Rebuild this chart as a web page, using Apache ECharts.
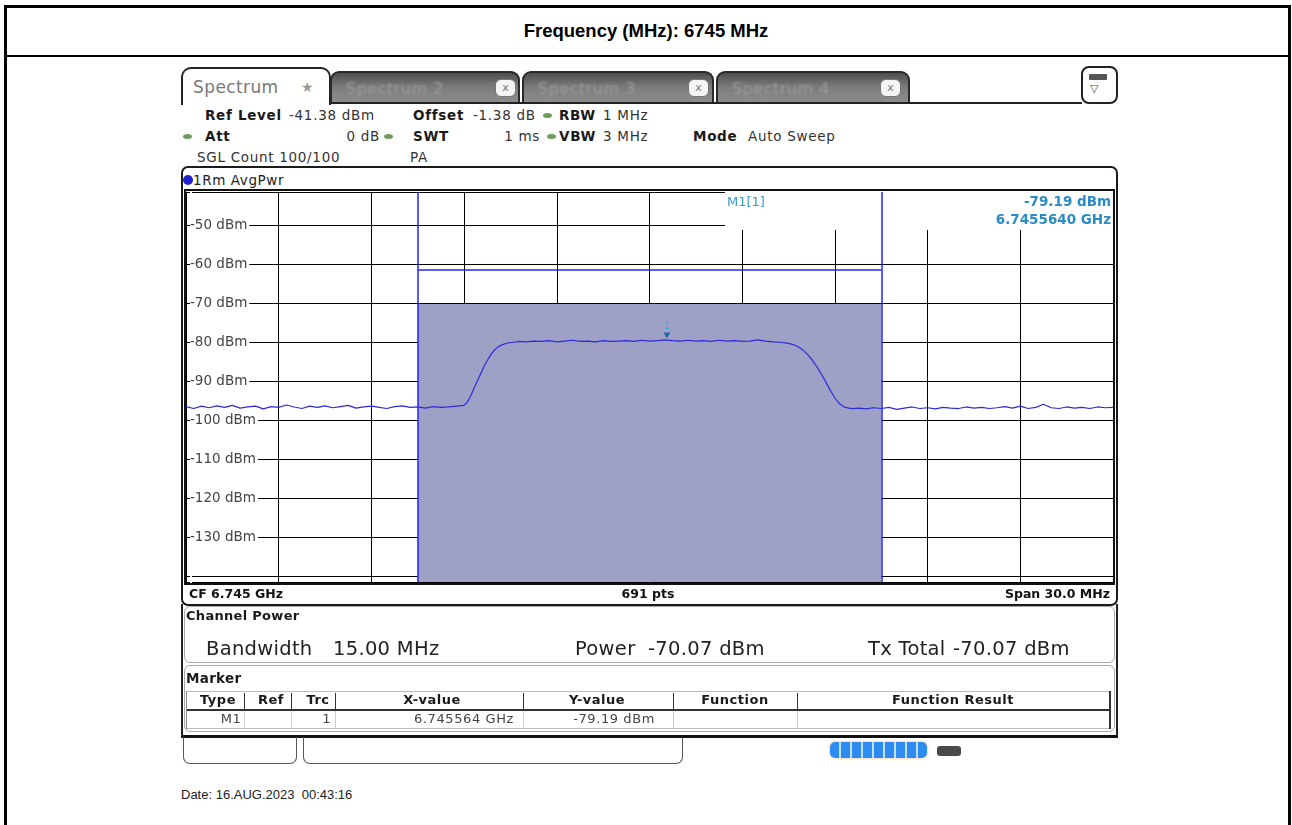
<!DOCTYPE html>
<html>
<head>
<meta charset="utf-8">
<script src="https://cdn.jsdelivr.net/npm/echarts@6/dist/echarts.min.js"></script>
<style>
  html, body { margin:0; padding:0; background:#fff; }
  #page { position:relative; width:1292px; height:825px; overflow:hidden; background:#fff; font-family:'DejaVu Sans', sans-serif; }
  .a { position:absolute; }
  .t { position:absolute; white-space:nowrap; height:20px; line-height:20px; }
  .info { font-size:13.5px; letter-spacing:0.7px; color:#333; }
  .b { font-weight:bold; color:#1a1a1a; }
  .dot { position:absolute; width:9px; height:5px; border-radius:50%; background:#6f9b5c; }
  .gtab { position:absolute; top:71px; height:31px; border:2px solid #2a2a2a; border-bottom:none; border-radius:9px 9px 0 0;
          background:linear-gradient(#4e4e4e, #7c7c7c 45%, #8e8e8e); box-sizing:content-box; }
  .gtab span { position:absolute; left:14px; top:6px; font-size:16px; color:#9c9c9c; letter-spacing:0.5px; filter:blur(1px); }
  .xbtn { position:absolute; top:6px; width:19px; height:16px; border-radius:6px; background:#f4f4f4; border:1px solid #777;
          font-size:11px; line-height:16px; text-align:center; color:#777; }
  .th { font-size:13px; font-weight:bold; color:#1a1a1a; letter-spacing:0.5px; }
  .td { font-size:13px; color:#444; letter-spacing:0.6px; }
  .cp { font-size:19.5px; color:#222; letter-spacing:0.3px; height:26px; line-height:26px; }
</style>
</head>
<body>
<div id="page">
  <!-- outer report frame -->
  <div class="a" style="left:4px;top:5px;width:1287px;height:3px;background:#000"></div>
  <div class="a" style="left:4px;top:5px;width:3px;height:830px;background:#000"></div>
  <div class="a" style="left:1288px;top:5px;width:3px;height:830px;background:#000"></div>
  <div class="a" style="left:4px;top:55px;width:1287px;height:2px;background:#000"></div>
  <div class="t" style="left:4px;width:1284px;top:21px;text-align:center;font-family:'Liberation Sans',Arial,sans-serif;font-weight:bold;font-size:18.5px;color:#000;">Frequency (MHz): 6745 MHz</div>

  <!-- tabs -->
  <div class="a" style="left:181px;top:67px;width:146px;height:36px;border:2px solid #222;border-bottom:none;border-radius:10px 10px 0 0;background:#fff;"></div>
  <div class="t" style="left:193px;top:77px;font-size:17px;color:#777;letter-spacing:0.4px;">Spectrum</div>
  <div class="t" style="left:301px;top:77px;font-size:14px;color:#9a9a9a;">★</div>
  <div class="gtab" style="left:330px;width:186px;"><span>Spectrum 2</span><div class="xbtn" style="left:163px;">x</div></div>
  <div class="gtab" style="left:522px;width:188px;"><span>Spectrum 3</span><div class="xbtn" style="left:164px;">x</div></div>
  <div class="gtab" style="left:716px;width:190px;"><span>Spectrum 4</span><div class="xbtn" style="left:162px;">x</div></div>
  <div class="a" style="left:330px;top:102px;width:752px;height:2px;background:#222"></div>
  <div class="a" style="left:1081px;top:66px;width:33px;height:34px;border:2px solid #222;border-radius:8px;background:#fff;"></div>
  <div class="a" style="left:1089px;top:74px;width:18px;height:6px;background:#555;border-radius:1px;"></div>
  <div class="t" style="left:1090px;top:79px;font-size:11px;color:#555;">▽</div>

  <!-- settings rows -->
  <div class="t info b" style="left:205px;top:105px;">Ref Level</div>
  <div class="t info" style="left:289px;top:105px;">-41.38 dBm</div>
  <div class="t info b" style="left:413px;top:105px;">Offset</div>
  <div class="t info" style="left:473px;top:105px;">-1.38 dB</div>
  <div class="dot" style="left:543px;top:113px;"></div>
  <div class="t info b" style="left:559px;top:105px;">RBW</div>
  <div class="t info" style="left:603px;top:105px;">1 MHz</div>

  <div class="dot" style="left:183px;top:134px;"></div>
  <div class="t info b" style="left:205px;top:126px;">Att</div>
  <div class="t info" style="left:280px;width:100px;text-align:right;top:126px;">0 dB</div>
  <div class="dot" style="left:384px;top:134px;"></div>
  <div class="t info b" style="left:413px;top:126px;">SWT</div>
  <div class="t info" style="left:440px;width:100px;text-align:right;top:126px;">1 ms</div>
  <div class="dot" style="left:547px;top:134px;"></div>
  <div class="t info b" style="left:559px;top:126px;">VBW</div>
  <div class="t info" style="left:603px;top:126px;">3 MHz</div>
  <div class="t info b" style="left:693px;top:126px;">Mode</div>
  <div class="t info" style="left:748px;top:126px;">Auto Sweep</div>

  <div class="t info" style="left:197px;top:147px;">SGL Count 100/100</div>
  <div class="t info" style="left:410px;top:147px;">PA</div>

  <!-- diagram frame -->
  <div class="a" style="left:181px;top:166px;width:937px;height:440px;border:2px solid #1a1a1a;border-radius:7px;box-sizing:border-box;background:#fff;"></div>
  <div class="a" style="left:183px;top:175px;width:10px;height:10px;border-radius:50%;background:#2222cc;"></div>
  <div class="t info" style="left:193px;top:170px;font-size:13.5px;letter-spacing:0.6px;color:#222;">1Rm AvgPwr</div>
  <div id="chart" class="a" style="left:186px;top:191px;width:927px;height:392px;"></div>
  <div class="a" style="left:184px;top:189px;width:931px;height:396px;border:2px solid #111;box-sizing:border-box;pointer-events:none;"></div>
  <div class="t" style="left:189px;top:584px;font-size:12.5px;font-weight:bold;color:#111;">CF 6.745 GHz</div>
  <div class="t" style="left:548px;width:200px;text-align:center;top:584px;font-size:12.5px;font-weight:bold;color:#111;">691 pts</div>
  <div class="t" style="left:910px;width:200px;text-align:right;top:584px;font-size:12.5px;font-weight:bold;color:#111;">Span 30.0 MHz</div>

  <!-- result panels -->
  <div class="a" style="left:181px;top:604px;width:937px;height:134px;border-left:2px solid #222;border-right:2px solid #222;border-bottom:3px solid #111;box-sizing:border-box;"></div>
  <div class="a" style="left:184px;top:606px;width:931px;height:57px;border:1px solid #a8a8a8;border-radius:6px;box-sizing:border-box;"></div>
  <div class="t b" style="left:186px;top:606px;font-size:13px;letter-spacing:0.3px;">Channel Power</div>
  <div class="t cp" style="left:206px;top:636px;">Bandwidth</div>
  <div class="t cp" style="left:333px;top:636px;">15.00 MHz</div>
  <div class="t cp" style="left:575px;top:636px;">Power</div>
  <div class="t cp" style="left:648px;top:636px;">-70.07 dBm</div>
  <div class="t cp" style="left:868px;top:636px;">Tx Total</div>
  <div class="t cp" style="left:953px;top:636px;">-70.07 dBm</div>

  <div class="a" style="left:184px;top:665px;width:931px;height:67px;border:1px solid #a8a8a8;border-radius:6px;box-sizing:border-box;"></div>
  <div class="t b" style="left:186px;top:668px;font-size:13.5px;letter-spacing:0.3px;">Marker</div>
  <!-- marker table -->
  <div class="a" style="left:187px;top:691px;width:923px;height:1px;background:#bbb"></div>
  <div class="a" style="left:187px;top:709px;width:923px;height:2px;background:#333"></div>
  <div class="a" style="left:187px;top:728px;width:923px;height:1px;background:#bbb"></div>
  <div class="a" style="left:186px;top:691px;width:1px;height:38px;background:#888"></div>
  <div class="a" style="left:1109px;top:691px;width:2px;height:38px;background:#333"></div>
  <div class="a" style="left:244px;top:693px;width:1px;height:17px;background:#333"></div>
  <div class="a" style="left:291px;top:693px;width:1px;height:17px;background:#333"></div>
  <div class="a" style="left:335px;top:693px;width:1px;height:17px;background:#333"></div>
  <div class="a" style="left:523px;top:693px;width:1px;height:17px;background:#333"></div>
  <div class="a" style="left:673px;top:693px;width:1px;height:17px;background:#333"></div>
  <div class="a" style="left:797px;top:693px;width:1px;height:17px;background:#333"></div>
  <div class="a" style="left:244px;top:711px;width:1px;height:17px;background:#ccc"></div>
  <div class="a" style="left:291px;top:711px;width:1px;height:17px;background:#ccc"></div>
  <div class="a" style="left:335px;top:711px;width:1px;height:17px;background:#ccc"></div>
  <div class="a" style="left:523px;top:711px;width:1px;height:17px;background:#ccc"></div>
  <div class="a" style="left:673px;top:711px;width:1px;height:17px;background:#ccc"></div>
  <div class="a" style="left:797px;top:711px;width:1px;height:17px;background:#ccc"></div>
  <div class="t th" style="left:168px;width:100px;text-align:center;top:690px;">Type</div>
  <div class="t th" style="left:221px;width:100px;text-align:center;top:690px;">Ref</div>
  <div class="t th" style="left:268px;width:100px;text-align:center;top:690px;">Trc</div>
  <div class="t th" style="left:382px;width:100px;text-align:center;top:690px;">X-value</div>
  <div class="t th" style="left:547px;width:100px;text-align:center;top:690px;">Y-value</div>
  <div class="t th" style="left:685px;width:100px;text-align:center;top:690px;">Function</div>
  <div class="t th" style="left:853px;width:200px;text-align:center;top:690px;">Function Result</div>
  <div class="t td" style="left:181px;width:100px;text-align:center;top:709px;">M1</div>
  <div class="t td" style="left:231px;width:100px;text-align:right;top:709px;">1</div>
  <div class="t td" style="left:350px;width:164px;text-align:right;top:709px;">6.745564 GHz</div>
  <div class="t td" style="left:500px;width:155px;text-align:right;top:709px;">-79.19 dBm</div>

  <!-- bottom status area -->
  <div class="a" style="left:183px;top:737px;width:114px;height:27px;border:1.5px solid #555;border-top:none;border-radius:0 0 7px 7px;box-sizing:border-box;"></div>
  <div class="a" style="left:303px;top:737px;width:380px;height:27px;border:1.5px solid #555;border-top:none;border-radius:0 0 7px 7px;box-sizing:border-box;"></div>
  <div class="a" style="left:830px;top:742px;width:97px;height:16px;border-radius:5px;background:repeating-linear-gradient(90deg,#2e8cf0 0px,#2e8cf0 9px,#bfe0ff 9px,#bfe0ff 11px);box-shadow:0 0 3px #f2b070;"></div>
  <div class="a" style="left:937px;top:746px;width:24px;height:10px;border-radius:3px;background:#4a4a4a;"></div>
  <div class="t" style="left:181px;top:785px;font-family:'Liberation Sans',Arial,sans-serif;font-size:13px;color:#222;">Date: 16.AUG.2023&nbsp; 00:43:16</div>
</div>

<script>
// ---- data ----
// frequency offset from CF 6.745 GHz, in MHz
const traceFreqMHz = [
  -15, -14.75, -14.5, -14.25, -14, -13.75, -13.5, -13.25, -13, -12.75, -12.5, -12.25,
  -12, -11.75, -11.5, -11.25, -11, -10.75, -10.5, -10.25, -10, -9.75, -9.5, -9.25,
  -9, -8.75, -8.5, -8.25, -8, -7.75, -7.5, -7.25, -7, -6.75, -6.5, -6.25,
  -6.0, -5.9, -5.8, -5.7, -5.6, -5.5, -5.4, -5.3, -5.2, -5.1, -5.0, -4.9, -4.75, -4.6, -4.4, -4.2,
  -4.0, -3.75, -3.5, -3.25, -3.0, -2.75, -2.5, -2.25, -2.0, -1.75, -1.5, -1.25, -1.0, -0.75, -0.5, -0.25,
  0, 0.25, 0.5, 0.564, 0.75, 1.0, 1.25, 1.5, 1.75, 2.0, 2.25, 2.5, 2.75, 3.0, 3.25, 3.5, 3.75, 4.0, 4.25,
  4.5, 4.65, 4.8, 4.95, 5.1, 5.25, 5.4, 5.55, 5.7, 5.85, 6.0, 6.15, 6.3, 6.45, 6.6,
  6.75, 7, 7.25, 7.5, 7.75, 8, 8.25, 8.5, 8.75, 9, 9.25, 9.5, 9.75, 10, 10.25, 10.5, 10.75,
  11, 11.25, 11.5, 11.75, 12, 12.25, 12.5, 12.75, 13, 13.25, 13.5, 13.75, 14, 14.25, 14.5, 14.75, 15
];
const traceLevelDbm = [
  -96.4, -96.9, -96.3, -96.7, -96.2, -96.6, -96.1, -96.8, -96.5, -96.3, -97.0, -96.4,
  -96.6, -96.0, -96.5, -96.9, -96.3, -96.6, -96.2, -96.7, -96.4, -96.1, -96.8, -96.5,
  -96.3, -96.6, -96.9, -96.4, -96.2, -96.6, -96.5, -96.8, -96.4, -96.6, -96.5, -96.3,
  -96.1, -95.3, -93.9, -92.1, -90.3, -88.6, -86.9, -85.3, -83.9, -82.7, -81.8, -81.1, -80.5, -80.1, -79.9, -79.7,
  -79.8, -79.6, -79.7, -79.5, -79.8, -79.6, -79.4, -79.7, -79.6, -79.8, -79.5, -79.7, -79.6, -79.5, -79.7, -79.4,
  -79.6, -79.5, -79.3, -79.19, -79.5, -79.6, -79.4, -79.6, -79.5, -79.7, -79.4, -79.6, -79.5, -79.7, -79.6, -79.3, -79.6, -79.8, -79.9,
  -80.2, -80.5, -81.0, -81.8, -82.9, -84.3, -86.0, -87.9, -90.0, -92.2, -94.2, -95.7, -96.5, -96.8, -96.9,
  -96.8, -97.0, -96.7, -96.9, -96.6, -97.1, -96.8, -96.5, -96.9, -96.7, -97.0, -96.6, -96.8, -96.9, -96.5, -96.8, -96.6,
  -96.9, -96.7, -96.4, -96.8, -96.3, -96.9, -96.6, -95.8, -96.7, -96.9, -96.5, -96.8, -96.6, -96.9, -96.5, -96.7, -96.6
];
const refLevelDbm = -41.38;
const bottomLevelDbm = -141.38;
const spanEdgesMHz = [-15, 15];
const channelEdgesMHz = [-7.5, 7.5];
const channelPowerDbm = -70.07;
const channelBarDbm = -61.4;
const marker1 = { freqMHz: 0.564, levelDbm: -79.19 };
const markerTexts = ['M1[1]', '-79.19 dBm', '6.7455640 GHz'];

const traceData = traceFreqMHz.map((f, i) => [f, traceLevelDbm[i]]);

const chart = echarts.init(document.getElementById('chart'), null, { renderer: 'canvas' });
chart.setOption({
  animation: false,
  grid: { left: 0, right: 0, top: 0, bottom: 0 },
  xAxis: {
    type: 'value', min: spanEdgesMHz[0], max: spanEdgesMHz[1], interval: 3,
    axisLine: { show: false }, axisTick: { show: false }, axisLabel: { show: false },
    splitLine: { show: true, lineStyle: { color: '#000', width: 1 } }
  },
  yAxis: {
    type: 'value', min: bottomLevelDbm, max: refLevelDbm, splitNumber: 10, minInterval: 10, maxInterval: 10,
    axisLine: { show: false }, axisTick: { show: false },
    axisLabel: {
      inside: true, margin: 4, color: '#444', fontSize: 13.5, fontFamily: 'DejaVu Sans',
      backgroundColor: '#fff', padding: [1, 2, 1, 0],
      formatter: v => (Math.abs(v - Math.round(v)) < 1e-6 && v >= -130 && v <= -50) ? (Math.round(v) + ' dBm') : ''
    },
    splitLine: { show: true, lineStyle: { color: '#000', width: 1 } }
  },
  graphic: [
    { type: 'rect', x: 539, y: 0, shape: { width: 388, height: 39 }, style: { fill: '#fff' }, z: 1 },
    { type: 'text', x: 541, y: 5, z: 10, style: { text: markerTexts[0], fill: '#3a9ad0', font: '13px "DejaVu Sans"' } },
    { type: 'text', x: 925, y: 4, z: 10, style: { text: markerTexts[1], fill: '#2a8cc4', font: 'bold 13.5px "DejaVu Sans"', textAlign: 'right' } },
    { type: 'text', x: 925, y: 22, z: 10, style: { text: markerTexts[2], fill: '#2a8cc4', font: 'bold 13.5px "DejaVu Sans"', textAlign: 'right' } }
  ],
  series: [{
    type: 'line',
    data: traceData,
    showSymbol: false,
    symbol: 'none',
    lineStyle: { color: '#2b2bdc', width: 1.2 },
    markArea: {
      silent: true,
      itemStyle: { color: '#9fa0c6', opacity: 1 },
      data: [[{ xAxis: channelEdgesMHz[0], yAxis: bottomLevelDbm }, { xAxis: channelEdgesMHz[1], yAxis: channelPowerDbm }]]
    },
    markLine: {
      silent: true, symbol: 'none', animation: false,
      label: { show: false },
      lineStyle: { color: '#2626f2', width: 1.5, type: 'solid' },
      data: [
        { xAxis: channelEdgesMHz[0] },
        { xAxis: channelEdgesMHz[1] },
        [{ coord: [channelEdgesMHz[0], channelBarDbm] }, { coord: [channelEdgesMHz[1], channelBarDbm] }]
      ]
    },
    markPoint: {
      silent: true, symbol: 'triangle', symbolRotate: 180, symbolSize: [7, 6], symbolOffset: [0, -4],
      itemStyle: { color: '#1d6aa8' },
      label: { show: true, position: 'top', distance: 1, formatter: '1', color: '#33b0dd', fontSize: 10 },
      data: [{ coord: [marker1.freqMHz, marker1.levelDbm] }]
    }
  }]
});
</script>
</body>
</html>
